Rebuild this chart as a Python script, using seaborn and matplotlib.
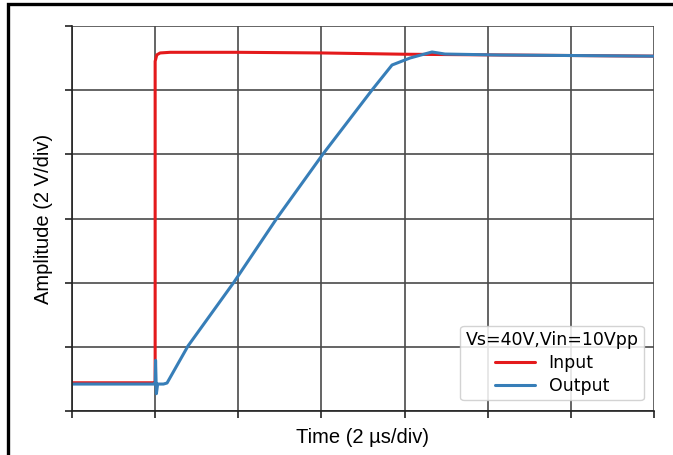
import numpy as np
import pandas as pd
import seaborn as sns
import matplotlib.pyplot as plt
from matplotlib.patches import Rectangle

# Data in division units (x: 2 us/div, y: 2 V/div)
input_x = [0.0, 0.5, 0.99, 1.0, 1.0, 1.02, 1.06, 1.18, 2.0, 3.0, 4.0, 5.0, 6.0, 7.0]
input_y = [0.44, 0.44, 0.44, 0.44, 5.45, 5.55, 5.58, 5.59, 5.59, 5.58, 5.56, 5.55, 5.54, 5.53]

output_x = [0.0, 0.5, 0.99, 1.0, 1.005, 1.015, 1.03, 1.1, 1.143, 1.395, 1.949, 2.466,
            3.019, 3.608, 3.849, 4.065, 4.33, 4.486, 5.148, 6.0, 7.0]
output_y = [0.42, 0.42, 0.42, 0.42, 0.79, 0.27, 0.42, 0.42, 0.436, 1.013, 2.010, 3.008,
            4.005, 5.002, 5.392, 5.501, 5.595, 5.563, 5.548, 5.54, 5.53]

series_names = ["Input", "Output"]
legend_title = "Vs=40V,Vin=10Vpp"

df = pd.concat([
    pd.DataFrame({"t": input_x, "v": input_y, "signal": series_names[0]}),
    pd.DataFrame({"t": output_x, "v": output_y, "signal": series_names[1]}),
], ignore_index=True)

sns.set_style("ticks")
plt.rcParams["text.color"] = "black"
plt.rcParams["axes.labelcolor"] = "black"
fig = plt.figure(figsize=(6.73, 4.55), dpi=100)
ax = fig.add_axes([72/673, 1 - 411/455, (654-72)/673, (411-26)/455])

sns.lineplot(data=df, x="t", y="v", hue="signal", estimator=None, sort=False,
             palette={"Input": "#e41a1c", "Output": "#377eb8"}, linewidth=2.2, ax=ax)

ax.set_xlim(0, 7)
ax.set_ylim(0, 6)
ax.set_xticks(np.arange(0, 8))
ax.set_yticks(np.arange(0, 7))
ax.set_xticklabels([])
ax.set_yticklabels([])
ax.grid(True, color="#4a4a4a", linewidth=1.2)
ax.set_axisbelow(True)
for s in ["top", "right"]:
    ax.spines[s].set_visible(False)
for s in ["left", "bottom"]:
    ax.spines[s].set_color("#222222")
    ax.spines[s].set_linewidth(1.2)
ax.tick_params(direction="out", length=5, width=1.2, color="#222222")

ax.set_xlabel("Time (2 µs/div)", fontsize=14.5, fontname="Liberation Sans", labelpad=4, color="black")
ax.set_ylabel("Amplitude (2 V/div)", fontsize=14.5, fontname="Liberation Sans", labelpad=5, color="black")

leg = ax.legend(title=legend_title, loc="lower right", fontsize=12.5, title_fontsize=12.5,
                framealpha=0.85, bbox_to_anchor=(0.997, 0.005), handlelength=2.3,
                labelspacing=0.3, borderpad=0.3)

fig.patches.append(Rectangle((8/673, -0.5), 2.0, 1.5 - 4/455, transform=fig.transFigure,
                             fill=False, edgecolor="black", linewidth=2.4, figure=fig))

fig.savefig("out.png", dpi=100)
